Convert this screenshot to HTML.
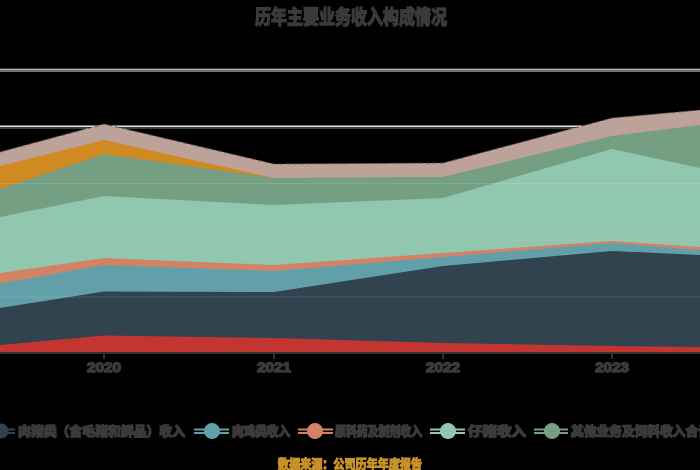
<!DOCTYPE html>
<html><head><meta charset="utf-8">
<style>
html,body{margin:0;padding:0;background:#000;}
svg{display:block;}
text{font-family:"Liberation Sans","Noto Sans CJK SC",sans-serif;}
</style></head>
<body>
<svg width="700" height="470" viewBox="0 0 700 470" xmlns="http://www.w3.org/2000/svg">
<rect width="700" height="470" fill="#000"/>
<!-- title -->
<text x="351" y="24" text-anchor="middle" font-size="20" font-weight="bold" fill="#3a3a3a" stroke="#3a3a3a" stroke-width="1.5" textLength="192" lengthAdjust="spacingAndGlyphs">历年主要业务收入构成情况</text>
<!-- grid lines -->
<g>
<line x1="0" y1="69" x2="700" y2="69" stroke="#777" stroke-width="1"/>
<line x1="0" y1="70" x2="700" y2="70" stroke="#e0e0e0" stroke-width="1"/>
<line x1="0" y1="71.5" x2="700" y2="71.5" stroke="#777" stroke-width="1"/>
<line x1="0" y1="125.5" x2="700" y2="125.5" stroke="#777" stroke-width="1"/>
<line x1="0" y1="126.5" x2="700" y2="126.5" stroke="#e0e0e0" stroke-width="1"/>
<line x1="0" y1="128" x2="700" y2="128" stroke="#777" stroke-width="1"/>
</g>
<!-- stacked areas, painted top series first -->
<polygon fill="#bda29a" points="0,152 104,124 274,164 443,163 612,118 700,110 700,353 0,353"/>
<polyline fill="none" stroke="#5a4c48" stroke-width="1" stroke-dasharray="4,3" points="0,152 104,124 274,164 443,163 612,118 700,110"/>
<polygon fill="#d08a22" points="0,166 104,140 274,178 443,177 612,136 700,125 700,353 0,353"/>
<polygon fill="#749f83" points="0,189 104,154 274,178 443,177 612,136 700,125 700,353 0,353"/>
<polygon fill="#91c7ae" points="0,217 104,196 274,205 443,198 612,149 700,168 700,353 0,353"/>
<polygon fill="#d48265" points="0,273 104,258 274,265 443,253 612,241 700,247 700,353 0,353"/>
<polygon fill="#61a0a8" points="0,283.5 104,265 274,271 443,257 612,243 700,250 700,353 0,353"/>
<polygon fill="#30434f" points="0,308 104,291.5 274,292 443,266 612,251 700,255 700,353 0,353"/>
<polygon fill="#c23531" points="0,345 104,335.5 274,338 443,343 612,346 700,347 700,353 0,353"/>
<!-- faint grid lines through areas -->
<g stroke="#ffffff" stroke-opacity="0.13" stroke-width="1">
<line x1="0" y1="183.5" x2="700" y2="183.5"/>
<line x1="0" y1="240" x2="700" y2="240"/>
<line x1="0" y1="297" x2="700" y2="297"/>
</g>
<!-- x axis -->
<line x1="0" y1="353" x2="700" y2="353" stroke="#333" stroke-width="2"/>
<g stroke="#333" stroke-width="2">
<line x1="104" y1="353" x2="104" y2="359"/>
<line x1="274" y1="353" x2="274" y2="359"/>
<line x1="443" y1="353" x2="443" y2="359"/>
<line x1="612" y1="353" x2="612" y2="359"/>
</g>
<g font-size="14" font-weight="bold" fill="#3a3a3a" stroke="#3a3a3a" stroke-width="1.5" text-anchor="middle">
<text x="104" y="372" textLength="34" lengthAdjust="spacingAndGlyphs">2020</text>
<text x="274" y="372" textLength="34" lengthAdjust="spacingAndGlyphs">2021</text>
<text x="443" y="372" textLength="34" lengthAdjust="spacingAndGlyphs">2022</text>
<text x="612" y="372" textLength="34" lengthAdjust="spacingAndGlyphs">2023</text>
</g>
<!-- legend -->
<g>
<line x1="-12" y1="429.5" x2="15" y2="429.5" stroke="#30434f" stroke-width="2"/>
<line x1="-12" y1="433" x2="15" y2="433" stroke="#30434f" stroke-width="2"/>
<circle cx="1" cy="431" r="7.5" fill="#30434f"/>
<text x="18" y="436" font-size="13" font-weight="bold" fill="#3a3a3a" stroke="#3a3a3a" stroke-width="1.5" textLength="167" lengthAdjust="spacingAndGlyphs">肉猪类（含毛猪和鲜品）收入</text>

<line x1="194" y1="429.5" x2="229" y2="429.5" stroke="#61a0a8" stroke-width="2"/>
<line x1="194" y1="433" x2="229" y2="433" stroke="#61a0a8" stroke-width="2"/>
<circle cx="212" cy="431" r="8" fill="#61a0a8"/>
<text x="232" y="436" font-size="13" font-weight="bold" fill="#3a3a3a" stroke="#3a3a3a" stroke-width="1.5" textLength="58" lengthAdjust="spacingAndGlyphs">肉鸡类收入</text>

<line x1="298" y1="429.5" x2="333" y2="429.5" stroke="#d48265" stroke-width="2"/>
<line x1="298" y1="433" x2="333" y2="433" stroke="#d48265" stroke-width="2"/>
<circle cx="315" cy="431" r="8" fill="#d48265"/>
<text x="335" y="436" font-size="13" font-weight="bold" fill="#3a3a3a" stroke="#3a3a3a" stroke-width="1.5" textLength="87" lengthAdjust="spacingAndGlyphs">原料药及制剂收入</text>

<line x1="430" y1="429.5" x2="465" y2="429.5" stroke="#91c7ae" stroke-width="2"/>
<line x1="430" y1="433" x2="465" y2="433" stroke="#91c7ae" stroke-width="2"/>
<circle cx="448" cy="431" r="8" fill="#91c7ae"/>
<text x="468" y="436" font-size="13" font-weight="bold" fill="#3a3a3a" stroke="#3a3a3a" stroke-width="1.5" textLength="58" lengthAdjust="spacingAndGlyphs">仔猪收入</text>

<line x1="534" y1="429.5" x2="568" y2="429.5" stroke="#749f83" stroke-width="2"/>
<line x1="534" y1="433" x2="568" y2="433" stroke="#749f83" stroke-width="2"/>
<circle cx="552" cy="431" r="8" fill="#749f83"/>
<text x="571" y="436" font-size="13" font-weight="bold" fill="#3a3a3a" stroke="#3a3a3a" stroke-width="1.5" textLength="140" lengthAdjust="spacingAndGlyphs">其他业务及饲料收入合计</text>
</g>
<!-- footer -->
<text x="278" y="469" font-size="13" font-weight="bold" fill="#c8922a" stroke="#c8922a" stroke-width="1.2" textLength="144" lengthAdjust="spacingAndGlyphs">数据来源：公司历年年度报告</text>
</svg>
</body></html>
